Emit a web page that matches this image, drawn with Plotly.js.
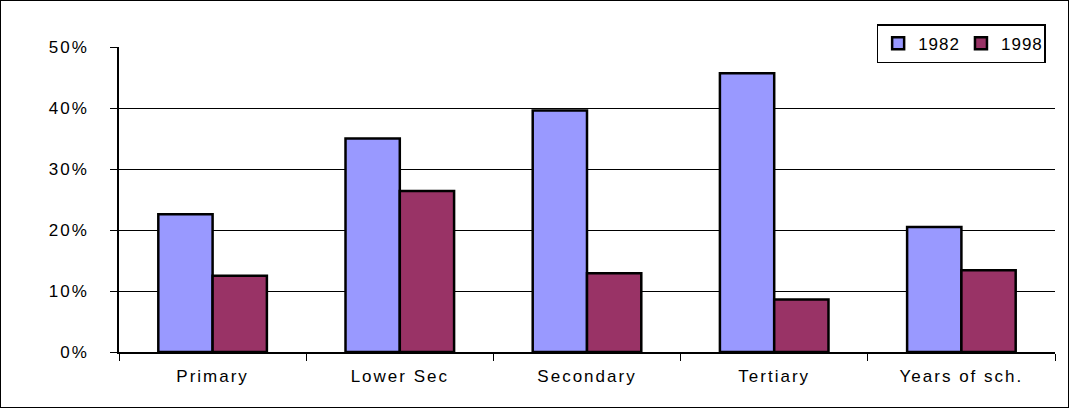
<!DOCTYPE html>
<html>
<head>
<script src="https://cdn.plot.ly/plotly-3.0.1.min.js"></script>
<style>
  body { margin: 0; background: #fff; }
  #chart { width: 1069px; height: 408px; box-sizing: border-box; border: 1px solid #000; overflow: hidden; }
  #chart .xtick text, #chart .ytick text { letter-spacing: 2px; }
  #chart .legendtext { letter-spacing: 1px; }
</style>
</head>
<body>
<div id="chart"></div>
<script>
const categories = ["Primary", "Lower Sec", "Secondary", "Tertiary", "Years of sch."];
const values1982 = [0.226, 0.350, 0.396, 0.457, 0.205];
const values1998 = [0.125, 0.264, 0.129, 0.086, 0.134];

const bar = (name, y, color) => ({
    type: "bar", name: name, x: categories, y: y,
    marker: {color: color, line: {color: "#000", width: 2.5}}
});

const data = [
    bar("1982", values1982, "#9999FF"),
    bar("1998", values1998, "#993366")
];

const layout = {
    width: 1067, height: 406,
    margin: {l: 118, r: 13, t: 46, b: 55},
    paper_bgcolor: "#fff", plot_bgcolor: "#fff",
    font: {family: "Liberation Sans, Arial", size: 17, color: "#000"},
    barmode: "group", bargap: 0.42, bargroupgap: 0,
    showlegend: true,
    legend: {
        orientation: "h", x: 0.99, xanchor: "right", y: 1.075, yanchor: "top",
        bordercolor: "#000", borderwidth: 1.5, font: {size: 17},
        itemwidth: 30
    },
    xaxis: {
        showline: true, linecolor: "#000", linewidth: 1.5,
        ticks: "outside", tickson: "boundaries", ticklen: 7, tickcolor: "#000",
        tickfont: {size: 17}, ticklabelstandoff: 8
    },
    yaxis: {
        range: [0, 0.5], dtick: 0.1, tickformat: ".0%",
        showline: true, linecolor: "#000", linewidth: 1.5,
        ticks: "outside", ticklen: 7, tickcolor: "#000",
        tickfont: {size: 17}, ticklabelstandoff: 18,
        gridcolor: "#000", gridwidth: 1, zeroline: false
    }
};

Plotly.newPlot("chart", data, layout, {displayModeBar: false});
</script>
</body>
</html>
